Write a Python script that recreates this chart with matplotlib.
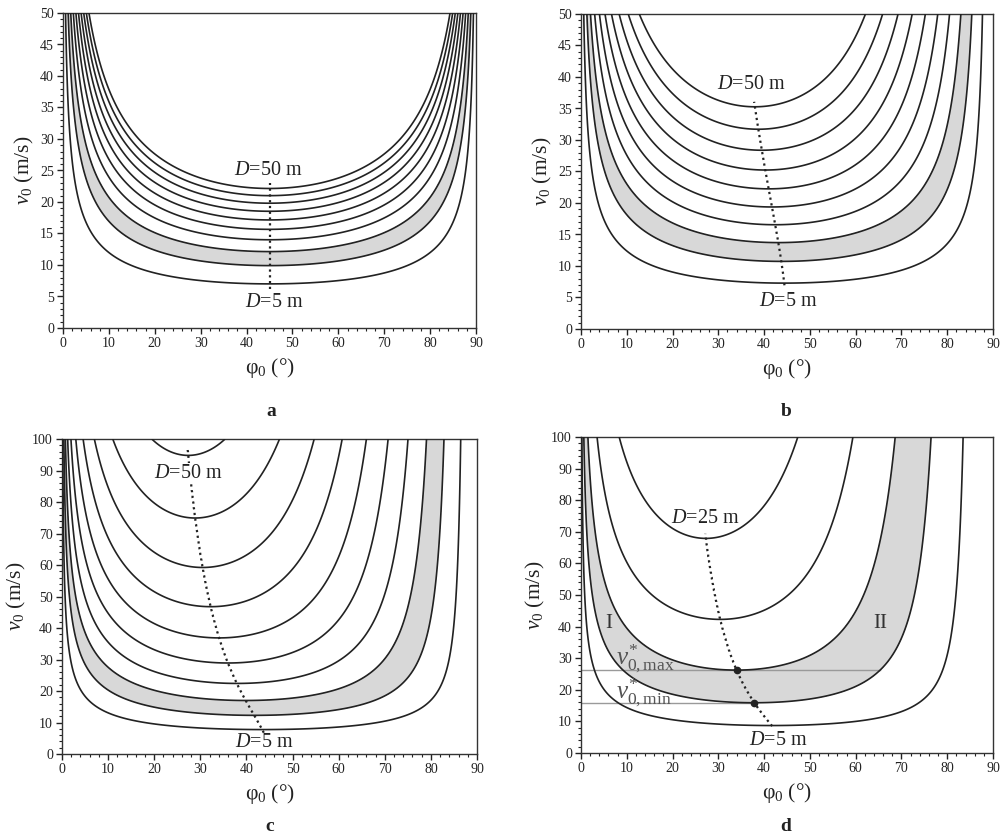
import numpy as np
import matplotlib
matplotlib.use("Agg")
import matplotlib.pyplot as plt
from matplotlib.ticker import MultipleLocator

# ---------------- data ----------------
g = 9.81
panel_letters = ["a", "b", "c", "d"]
# distance levels (m) drawn in each panel
D_a = [5, 10, 15, 20, 25, 30, 35, 40, 45, 50]
D_b = [5, 10, 15, 20, 25, 30, 35, 40, 45, 50]
D_c = [5, 10, 15, 20, 25, 30, 35, 40, 45, 50]
D_d = [5, 10, 15, 20, 25]
# terminal velocity of the projectile (m/s) in each panel (inf = no air drag)
vt_panels = [np.inf, 22.3, 14.05, 9.9]
# v0 axis upper limit per panel
vmax_panels = [50, 50, 100, 100]
# shaded band between these two distances
band = [10, 15]
# label texts
top_labels = ["$D$=50 m", "$D$=50 m", "$D$=50 m", "$D$=25 m"]
bottom_labels = ["$D$=5 m"] * 4


# ---------------- model ----------------
def ranges(phi_deg, v0, vt, nsteps=4000):
    k2 = 0.0 if np.isinf(vt) else g / vt ** 2
    P, V = np.meshgrid(phi_deg, v0)
    th = np.radians(P)
    vx = V * np.cos(th)
    vy = V * np.sin(th)
    x = np.zeros_like(vx)
    y = np.zeros_like(vx)
    T_est = 2 * V * np.sin(th) / g + 1e-3
    dtmax = T_est / 300
    landed = np.zeros(vx.shape, bool)
    R = np.zeros_like(vx)

    def acc(ux, uy):
        f = k2 * np.sqrt(ux * ux + uy * uy)
        return -f * ux, -g - f * uy

    for _ in range(nsteps):
        s = np.sqrt(vx * vx + vy * vy)
        dt = np.minimum(dtmax, 0.2 / (k2 * s + 1e-9))
        a1x, a1y = acc(vx, vy)
        b2x, b2y = vx + 0.5 * dt * a1x, vy + 0.5 * dt * a1y
        a2x, a2y = acc(b2x, b2y)
        b3x, b3y = vx + 0.5 * dt * a2x, vy + 0.5 * dt * a2y
        a3x, a3y = acc(b3x, b3y)
        b4x, b4y = vx + dt * a3x, vy + dt * a3y
        a4x, a4y = acc(b4x, b4y)
        xn = x + dt / 6 * (vx + 2 * b2x + 2 * b3x + b4x)
        yn = y + dt / 6 * (vy + 2 * b2y + 2 * b3y + b4y)
        vxn = vx + dt / 6 * (a1x + 2 * a2x + 2 * a3x + a4x)
        vyn = vy + dt / 6 * (a1y + 2 * a2y + 2 * a3y + a4y)
        cross = (~landed) & (yn < 0)
        frac = y / np.where(cross, y - yn, 1.0)
        R = np.where(cross, x + frac * (xn - x), R)
        landed |= cross
        x, y, vx, vy = xn, yn, vxn, vyn
        if landed.all():
            break
    return R


def optimum(phi, R):
    i = np.clip(R.argmax(axis=1), 1, len(phi) - 2)
    r = np.arange(R.shape[0])
    x0, x1, x2 = phi[i - 1], phi[i], phi[i + 1]
    y0, y1, y2 = R[r, i - 1], R[r, i], R[r, i + 1]
    num = (x1 - x0) ** 2 * (y1 - y2) - (x1 - x2) ** 2 * (y1 - y0)
    den = (x1 - x0) * (y1 - y2) - (x1 - x2) * (y1 - y0)
    xv = x1 - 0.5 * num / np.where(den == 0, 1, den)
    return xv, R.max(axis=1)


# ---------------- style ----------------
plt.rcParams["font.family"] = ["Liberation Serif", "DejaVu Serif"]
plt.rcParams["mathtext.fontset"] = "custom"
plt.rcParams["mathtext.rm"] = "Liberation Serif"
plt.rcParams["mathtext.it"] = "Liberation Serif:italic"
plt.rcParams["mathtext.bf"] = "Liberation Serif:bold"

ink = "#222222"
shade = "#d8d8d8"
grey_line = "#9a9a9a"

fig = plt.figure(figsize=(10.06, 8.38), dpi=100)
W, H = 1006, 838
boxes = [(63, 13, 476, 328), (581, 14, 993, 329), (62, 439, 477, 754), (581, 437, 993, 753)]
letter_pos = [(271, 411), (786, 411), (270, 826), (786, 826)]
D_sets = [D_a, D_b, D_c, D_d]
# label anchor positions in data coordinates and dotted-line extent (v0)
top_lab_xy = [(44.7, 25.0), (37.3, 38.8), (27.3, 89.1), (27.1, 74.2)]
bot_lab_xy = [(46.1, 4.1), (45.2, 4.4), (43.8, 3.5), (43.0, 4.0)]
dot_extent = [(6.2, 23.0), (6.9, 36.1), (6.7, 97.5), (8.4, 69.4)]

u = np.linspace(0, 1, 421)
phi = 90 * (1 - np.cos(np.pi * u)) / 2
phi_loc = np.linspace(0.5, 89.5, 361)

for k in range(4):
    l, t, r, b = boxes[k]
    ax = fig.add_axes([l / W, 1 - b / H, (r - l) / W, (b - t) / H])
    vmax = vmax_panels[k]
    v = np.linspace(0, vmax, 201)
    R = ranges(phi, v, vt_panels[k])
    Ds = D_sets[k]

    ax.contourf(phi, v, R, levels=band, colors=[shade], zorder=1)
    ax.contour(phi, v, R, levels=Ds, colors=[ink], linewidths=1.2, zorder=3)

    # locus of minima (optimal launch angle)
    vf = np.linspace(0, vmax, 801)
    sel = (vf >= dot_extent[k][0] - 1) & (vf <= dot_extent[k][1] + 1)
    vsub = vf[sel]
    Rf_rows = ranges(phi_loc, vsub, vt_panels[k])
    popt, rmax = optimum(phi_loc, Rf_rows)
    m = (vsub >= dot_extent[k][0]) & (vsub <= dot_extent[k][1])
    ax.plot(popt[m], vsub[m], color=ink, linestyle=(0, (1.0, 1.6)), linewidth=1.6, zorder=4)

    bbox = dict(facecolor="white", edgecolor="none", pad=0.5) if k == 2 else None
    ax.text(*top_lab_xy[k], top_labels[k], fontsize=14.5, ha="center", va="center",
            color=ink, zorder=6, bbox=bbox)
    ax.text(*bot_lab_xy[k], bottom_labels[k], fontsize=14.5, ha="center", va="center",
            color=ink, zorder=6)

    if k == 3:
        v_star_min = np.interp(band[0], rmax, vsub)
        v_star_max = np.interp(band[1], rmax, vsub)
        p_min = np.interp(band[0], rmax, popt)
        p_max = np.interp(band[1], rmax, popt)
        phi_row = np.linspace(0, 90, 1801)
        Rrow = ranges(phi_row, np.array([v_star_max]), vt_panels[k])[0]
        right_end = phi_row[np.where(Rrow >= band[0])[0][-1]]
        ax.plot([0, right_end], [v_star_max, v_star_max], color=grey_line, lw=1.0, zorder=2)
        ax.plot([0, p_min], [v_star_min, v_star_min], color=grey_line, lw=1.0, zorder=2)
        ax.plot([p_max, p_min], [v_star_max, v_star_min], "o", color=ink, ms=4.5, zorder=5)
        ax.text(6.0, 40.9, "I", fontsize=15, ha="center", va="center", color="#333333")
        ax.text(65.3, 40.9, "II", fontsize=15, ha="center", va="center", color="#333333")
        ax.text(7.6, 29.8, r"$v^{*}_{0,\mathrm{max}}$", fontsize=18, ha="left", va="center", color="#555555")
        ax.text(7.6, 19.2, r"$v^{*}_{0,\mathrm{min}}$", fontsize=18, ha="left", va="center", color="#555555")

    ax.set_xlim(0, 90)
    ax.set_ylim(0, vmax)
    ax.xaxis.set_major_locator(MultipleLocator(10))
    ax.xaxis.set_minor_locator(MultipleLocator(2))
    if vmax == 50:
        ax.yaxis.set_major_locator(MultipleLocator(5))
        ax.yaxis.set_minor_locator(MultipleLocator(1))
    else:
        ax.yaxis.set_major_locator(MultipleLocator(10))
        ax.yaxis.set_minor_locator(MultipleLocator(2))
    ax.tick_params(which="major", direction="out", length=4.5, width=1.0, labelsize=10,
                   colors=ink, pad=2)
    ax.tick_params(which="minor", direction="out", length=2.5, width=0.8, colors=ink)
    for s in ax.spines.values():
        s.set_color("#333333")
        s.set_linewidth(1.0)
    ax.set_xlabel("φ$_0$ (°)", fontsize=15.5, color=ink, labelpad=4)
    ax.set_ylabel("$v_0$ (m/s)", fontsize=15.5, color=ink, labelpad=3)
    fig.text(letter_pos[k][0] / W, 1 - letter_pos[k][1] / H, panel_letters[k],
             fontsize=14, fontweight="bold", ha="center", va="center", color=ink)

fig.savefig("out.png", dpi=100, facecolor="white")
